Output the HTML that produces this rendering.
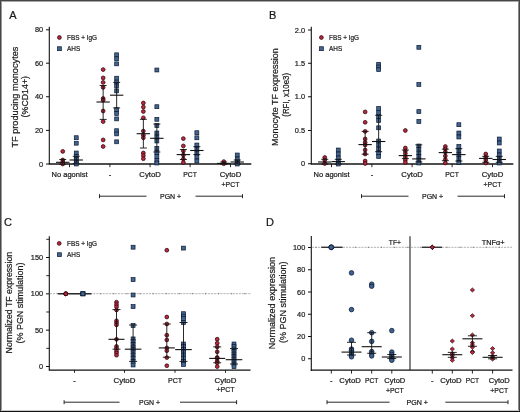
<!DOCTYPE html>
<html><head><meta charset="utf-8"><style>
html,body{margin:0;padding:0;background:#fff;}
svg{display:block;will-change:transform;}
text{font-family:"Liberation Sans", sans-serif;stroke:#1a1a1a;stroke-width:0.22px;}
</style></head><body>
<svg width="520" height="412" viewBox="0 0 520 412">
<rect x="0" y="0" width="520" height="412" fill="#fff"/>
<text x="13.0" y="19.3" font-size="11" text-anchor="middle" fill="#1a1a1a">A</text>
<line x1="49.3" y1="26.8" x2="49.3" y2="164.2" stroke="#111" stroke-width="1.1"/>
<line x1="46.0" y1="164.0" x2="49.3" y2="164.0" stroke="#111" stroke-width="1.0"/>
<text x="43.099999999999994" y="166.5" font-size="8.1" text-anchor="end" textLength="4.1" lengthAdjust="spacingAndGlyphs" fill="#1a1a1a">0</text>
<line x1="46.0" y1="130.4" x2="49.3" y2="130.4" stroke="#111" stroke-width="1.0"/>
<text x="43.099999999999994" y="132.9" font-size="8.1" text-anchor="end" textLength="8.2" lengthAdjust="spacingAndGlyphs" fill="#1a1a1a">20</text>
<line x1="46.0" y1="96.75" x2="49.3" y2="96.75" stroke="#111" stroke-width="1.0"/>
<text x="43.099999999999994" y="99.25" font-size="8.1" text-anchor="end" textLength="8.2" lengthAdjust="spacingAndGlyphs" fill="#1a1a1a">40</text>
<line x1="46.0" y1="63.2" x2="49.3" y2="63.2" stroke="#111" stroke-width="1.0"/>
<text x="43.099999999999994" y="65.7" font-size="8.1" text-anchor="end" textLength="8.2" lengthAdjust="spacingAndGlyphs" fill="#1a1a1a">60</text>
<line x1="46.0" y1="29.8" x2="49.3" y2="29.8" stroke="#111" stroke-width="1.0"/>
<text x="43.099999999999994" y="32.3" font-size="8.1" text-anchor="end" textLength="8.2" lengthAdjust="spacingAndGlyphs" fill="#1a1a1a">80</text>
<line x1="48.8" y1="164.0" x2="251.3" y2="164.0" stroke="#151515" stroke-width="1.4"/>
<line x1="69.5" y1="163.9" x2="69.5" y2="167.2" stroke="#111" stroke-width="0.9"/>
<line x1="109.9" y1="163.9" x2="109.9" y2="167.2" stroke="#111" stroke-width="0.9"/>
<line x1="150.1" y1="163.9" x2="150.1" y2="167.2" stroke="#111" stroke-width="0.9"/>
<line x1="190.10000000000002" y1="163.9" x2="190.10000000000002" y2="167.2" stroke="#111" stroke-width="0.9"/>
<line x1="230.5" y1="163.9" x2="230.5" y2="167.2" stroke="#111" stroke-width="0.9"/>
<text x="69.5" y="177.3" font-size="7.6" text-anchor="middle" textLength="36.0" lengthAdjust="spacingAndGlyphs" fill="#1a1a1a">No agonist</text>
<text x="109.9" y="177.3" font-size="7.6" text-anchor="middle" fill="#1a1a1a">-</text>
<text x="150.1" y="177.3" font-size="7.6" text-anchor="middle" textLength="21.6" lengthAdjust="spacingAndGlyphs" fill="#1a1a1a">CytoD</text>
<text x="190.10000000000002" y="177.3" font-size="7.6" text-anchor="middle" textLength="13.6" lengthAdjust="spacingAndGlyphs" fill="#1a1a1a">PCT</text>
<text x="230.5" y="177.3" font-size="7.6" text-anchor="middle" textLength="21.6" lengthAdjust="spacingAndGlyphs" fill="#1a1a1a">CytoD</text>
<text x="230.5" y="186.5" font-size="7.6" text-anchor="middle" textLength="17.8" lengthAdjust="spacingAndGlyphs" fill="#1a1a1a">+PCT</text>
<line x1="99.5" y1="196.2" x2="146.5" y2="196.2" stroke="#111" stroke-width="0.9"/>
<line x1="99.5" y1="194.2" x2="99.5" y2="198.2" stroke="#111" stroke-width="0.9"/>
<line x1="195.5" y1="196.2" x2="242.5" y2="196.2" stroke="#111" stroke-width="0.9"/>
<line x1="242.5" y1="194.2" x2="242.5" y2="198.2" stroke="#111" stroke-width="0.9"/>
<text x="170.6" y="199.0" font-size="7.6" text-anchor="middle" textLength="21.2" lengthAdjust="spacingAndGlyphs" fill="#1a1a1a">PGN +</text>
<text transform="translate(17.6,97.1) rotate(-90)" x="0" y="0" font-size="9.7" text-anchor="middle" textLength="101.0" lengthAdjust="spacingAndGlyphs" fill="#1a1a1a">TF producing monocytes</text>
<text transform="translate(28.3,96.7) rotate(-90)" x="0" y="0" font-size="9.5" text-anchor="middle" textLength="41.4" lengthAdjust="spacingAndGlyphs" fill="#1a1a1a">(%CD14+)</text>
<circle cx="59.4" cy="37.5" r="1.9" fill="#ba2840" stroke="#2a0508" stroke-width="0.75"/>
<text x="67.0" y="39.8" font-size="7.6" text-anchor="start" textLength="30.0" lengthAdjust="spacingAndGlyphs" fill="#1a1a1a">FBS + IgG</text>
<rect x="57.449999999999996" y="46.75" width="3.9" height="3.9" fill="#42648f" stroke="#0b1a33" stroke-width="0.7"/>
<text x="67.0" y="50.8" font-size="7.6" text-anchor="start" textLength="13.2" lengthAdjust="spacingAndGlyphs" fill="#1a1a1a">AHS</text>
<circle cx="62.75" cy="151.4" r="1.9" fill="#ba2840" stroke="#2a0508" stroke-width="0.75"/>
<circle cx="62.75" cy="160.0" r="1.9" fill="#ba2840" stroke="#2a0508" stroke-width="0.75"/>
<circle cx="62.75" cy="162.3" r="1.9" fill="#ba2840" stroke="#2a0508" stroke-width="0.75"/>
<circle cx="62.75" cy="164.0" r="1.9" fill="#ba2840" stroke="#2a0508" stroke-width="0.75"/>
<rect x="74.3" y="135.75" width="3.9" height="3.9" fill="#42648f" stroke="#0b1a33" stroke-width="0.7"/>
<rect x="74.3" y="141.25" width="3.9" height="3.9" fill="#42648f" stroke="#0b1a33" stroke-width="0.7"/>
<rect x="74.3" y="151.05" width="3.9" height="3.9" fill="#42648f" stroke="#0b1a33" stroke-width="0.7"/>
<rect x="74.3" y="154.55" width="3.9" height="3.9" fill="#42648f" stroke="#0b1a33" stroke-width="0.7"/>
<rect x="74.3" y="157.55" width="3.9" height="3.9" fill="#42648f" stroke="#0b1a33" stroke-width="0.7"/>
<rect x="74.3" y="160.05" width="3.9" height="3.9" fill="#42648f" stroke="#0b1a33" stroke-width="0.7"/>
<rect x="74.3" y="162.05" width="3.9" height="3.9" fill="#42648f" stroke="#0b1a33" stroke-width="0.7"/>
<line x1="62.75" y1="159.5" x2="62.75" y2="164.3" stroke="#111" stroke-width="0.9"/>
<line x1="59.25" y1="159.5" x2="66.25" y2="159.5" stroke="#111" stroke-width="0.9"/>
<line x1="59.25" y1="164.3" x2="66.25" y2="164.3" stroke="#111" stroke-width="0.9"/>
<line x1="56.05" y1="162.3" x2="69.45" y2="162.3" stroke="#111" stroke-width="1.1"/>
<line x1="76.25" y1="156.3" x2="76.25" y2="163.8" stroke="#111" stroke-width="0.9"/>
<line x1="72.75" y1="156.3" x2="79.75" y2="156.3" stroke="#111" stroke-width="0.9"/>
<line x1="72.75" y1="163.8" x2="79.75" y2="163.8" stroke="#111" stroke-width="0.9"/>
<line x1="69.55" y1="160.0" x2="82.95" y2="160.0" stroke="#111" stroke-width="1.1"/>
<circle cx="103.15" cy="69.6" r="1.9" fill="#ba2840" stroke="#2a0508" stroke-width="0.75"/>
<circle cx="103.15" cy="77.9" r="1.9" fill="#ba2840" stroke="#2a0508" stroke-width="0.75"/>
<circle cx="103.15" cy="82.4" r="1.9" fill="#ba2840" stroke="#2a0508" stroke-width="0.75"/>
<circle cx="103.15" cy="87.4" r="1.9" fill="#ba2840" stroke="#2a0508" stroke-width="0.75"/>
<circle cx="103.15" cy="98.5" r="1.9" fill="#ba2840" stroke="#2a0508" stroke-width="0.75"/>
<circle cx="103.15" cy="100.2" r="1.9" fill="#ba2840" stroke="#2a0508" stroke-width="0.75"/>
<circle cx="103.15" cy="111.0" r="1.9" fill="#ba2840" stroke="#2a0508" stroke-width="0.75"/>
<circle cx="103.15" cy="121.6" r="1.9" fill="#ba2840" stroke="#2a0508" stroke-width="0.75"/>
<circle cx="103.15" cy="139.9" r="1.9" fill="#ba2840" stroke="#2a0508" stroke-width="0.75"/>
<circle cx="103.15" cy="146.5" r="1.9" fill="#ba2840" stroke="#2a0508" stroke-width="0.75"/>
<rect x="114.7" y="52.849999999999994" width="3.9" height="3.9" fill="#42648f" stroke="#0b1a33" stroke-width="0.7"/>
<rect x="114.7" y="56.8" width="3.9" height="3.9" fill="#42648f" stroke="#0b1a33" stroke-width="0.7"/>
<rect x="114.7" y="61.9" width="3.9" height="3.9" fill="#42648f" stroke="#0b1a33" stroke-width="0.7"/>
<rect x="114.7" y="76.25" width="3.9" height="3.9" fill="#42648f" stroke="#0b1a33" stroke-width="0.7"/>
<rect x="114.7" y="80.14999999999999" width="3.9" height="3.9" fill="#42648f" stroke="#0b1a33" stroke-width="0.7"/>
<rect x="114.7" y="84.05" width="3.9" height="3.9" fill="#42648f" stroke="#0b1a33" stroke-width="0.7"/>
<rect x="114.7" y="88.95" width="3.9" height="3.9" fill="#42648f" stroke="#0b1a33" stroke-width="0.7"/>
<rect x="114.7" y="107.75" width="3.9" height="3.9" fill="#42648f" stroke="#0b1a33" stroke-width="0.7"/>
<rect x="114.7" y="111.55" width="3.9" height="3.9" fill="#42648f" stroke="#0b1a33" stroke-width="0.7"/>
<rect x="114.7" y="116.95" width="3.9" height="3.9" fill="#42648f" stroke="#0b1a33" stroke-width="0.7"/>
<rect x="114.7" y="128.75" width="3.9" height="3.9" fill="#42648f" stroke="#0b1a33" stroke-width="0.7"/>
<rect x="114.7" y="131.95000000000002" width="3.9" height="3.9" fill="#42648f" stroke="#0b1a33" stroke-width="0.7"/>
<rect x="114.7" y="139.85000000000002" width="3.9" height="3.9" fill="#42648f" stroke="#0b1a33" stroke-width="0.7"/>
<line x1="103.15" y1="85.5" x2="103.15" y2="119.4" stroke="#111" stroke-width="0.9"/>
<line x1="99.65" y1="85.5" x2="106.65" y2="85.5" stroke="#111" stroke-width="0.9"/>
<line x1="99.65" y1="119.4" x2="106.65" y2="119.4" stroke="#111" stroke-width="0.9"/>
<line x1="96.45" y1="102.0" x2="109.85000000000001" y2="102.0" stroke="#111" stroke-width="1.1"/>
<line x1="116.65" y1="82.4" x2="116.65" y2="107.9" stroke="#111" stroke-width="0.9"/>
<line x1="113.15" y1="82.4" x2="120.15" y2="82.4" stroke="#111" stroke-width="0.9"/>
<line x1="113.15" y1="107.9" x2="120.15" y2="107.9" stroke="#111" stroke-width="0.9"/>
<line x1="109.95" y1="95.2" x2="123.35000000000001" y2="95.2" stroke="#111" stroke-width="1.1"/>
<circle cx="143.35" cy="103.0" r="1.9" fill="#ba2840" stroke="#2a0508" stroke-width="0.75"/>
<circle cx="143.35" cy="107.1" r="1.9" fill="#ba2840" stroke="#2a0508" stroke-width="0.75"/>
<circle cx="143.35" cy="111.5" r="1.9" fill="#ba2840" stroke="#2a0508" stroke-width="0.75"/>
<circle cx="143.35" cy="117.8" r="1.9" fill="#ba2840" stroke="#2a0508" stroke-width="0.75"/>
<circle cx="143.35" cy="131.1" r="1.9" fill="#ba2840" stroke="#2a0508" stroke-width="0.75"/>
<circle cx="143.35" cy="135.2" r="1.9" fill="#ba2840" stroke="#2a0508" stroke-width="0.75"/>
<circle cx="143.35" cy="137.8" r="1.9" fill="#ba2840" stroke="#2a0508" stroke-width="0.75"/>
<circle cx="143.35" cy="153.0" r="1.9" fill="#ba2840" stroke="#2a0508" stroke-width="0.75"/>
<circle cx="143.35" cy="155.6" r="1.9" fill="#ba2840" stroke="#2a0508" stroke-width="0.75"/>
<circle cx="143.35" cy="158.7" r="1.9" fill="#ba2840" stroke="#2a0508" stroke-width="0.75"/>
<rect x="154.9" y="68.05" width="3.9" height="3.9" fill="#42648f" stroke="#0b1a33" stroke-width="0.7"/>
<rect x="154.9" y="104.75" width="3.9" height="3.9" fill="#42648f" stroke="#0b1a33" stroke-width="0.7"/>
<rect x="154.9" y="117.35" width="3.9" height="3.9" fill="#42648f" stroke="#0b1a33" stroke-width="0.7"/>
<rect x="154.9" y="123.55" width="3.9" height="3.9" fill="#42648f" stroke="#0b1a33" stroke-width="0.7"/>
<rect x="154.9" y="131.05" width="3.9" height="3.9" fill="#42648f" stroke="#0b1a33" stroke-width="0.7"/>
<rect x="154.9" y="135.05" width="3.9" height="3.9" fill="#42648f" stroke="#0b1a33" stroke-width="0.7"/>
<rect x="154.9" y="139.05" width="3.9" height="3.9" fill="#42648f" stroke="#0b1a33" stroke-width="0.7"/>
<rect x="154.9" y="146.55" width="3.9" height="3.9" fill="#42648f" stroke="#0b1a33" stroke-width="0.7"/>
<rect x="154.9" y="150.55" width="3.9" height="3.9" fill="#42648f" stroke="#0b1a33" stroke-width="0.7"/>
<rect x="154.9" y="154.55" width="3.9" height="3.9" fill="#42648f" stroke="#0b1a33" stroke-width="0.7"/>
<rect x="154.9" y="158.55" width="3.9" height="3.9" fill="#42648f" stroke="#0b1a33" stroke-width="0.7"/>
<rect x="154.9" y="161.05" width="3.9" height="3.9" fill="#42648f" stroke="#0b1a33" stroke-width="0.7"/>
<line x1="143.35" y1="119.3" x2="143.35" y2="148.0" stroke="#111" stroke-width="0.9"/>
<line x1="139.85" y1="119.3" x2="146.85" y2="119.3" stroke="#111" stroke-width="0.9"/>
<line x1="139.85" y1="148.0" x2="146.85" y2="148.0" stroke="#111" stroke-width="0.9"/>
<line x1="136.65" y1="133.7" x2="150.04999999999998" y2="133.7" stroke="#111" stroke-width="1.1"/>
<line x1="156.85" y1="124.1" x2="156.85" y2="152.0" stroke="#111" stroke-width="0.9"/>
<line x1="153.35" y1="124.1" x2="160.35" y2="124.1" stroke="#111" stroke-width="0.9"/>
<line x1="153.35" y1="152.0" x2="160.35" y2="152.0" stroke="#111" stroke-width="0.9"/>
<line x1="150.15" y1="138.3" x2="163.54999999999998" y2="138.3" stroke="#111" stroke-width="1.1"/>
<circle cx="183.35000000000002" cy="138.6" r="1.9" fill="#ba2840" stroke="#2a0508" stroke-width="0.75"/>
<circle cx="183.35000000000002" cy="145.9" r="1.9" fill="#ba2840" stroke="#2a0508" stroke-width="0.75"/>
<circle cx="183.35000000000002" cy="151.0" r="1.9" fill="#ba2840" stroke="#2a0508" stroke-width="0.75"/>
<circle cx="183.35000000000002" cy="155.0" r="1.9" fill="#ba2840" stroke="#2a0508" stroke-width="0.75"/>
<circle cx="183.35000000000002" cy="159.0" r="1.9" fill="#ba2840" stroke="#2a0508" stroke-width="0.75"/>
<circle cx="183.35000000000002" cy="162.5" r="1.9" fill="#ba2840" stroke="#2a0508" stroke-width="0.75"/>
<rect x="194.90000000000003" y="130.75" width="3.9" height="3.9" fill="#42648f" stroke="#0b1a33" stroke-width="0.7"/>
<rect x="194.90000000000003" y="135.85000000000002" width="3.9" height="3.9" fill="#42648f" stroke="#0b1a33" stroke-width="0.7"/>
<rect x="194.90000000000003" y="143.05" width="3.9" height="3.9" fill="#42648f" stroke="#0b1a33" stroke-width="0.7"/>
<rect x="194.90000000000003" y="147.05" width="3.9" height="3.9" fill="#42648f" stroke="#0b1a33" stroke-width="0.7"/>
<rect x="194.90000000000003" y="151.05" width="3.9" height="3.9" fill="#42648f" stroke="#0b1a33" stroke-width="0.7"/>
<rect x="194.90000000000003" y="155.05" width="3.9" height="3.9" fill="#42648f" stroke="#0b1a33" stroke-width="0.7"/>
<rect x="194.90000000000003" y="159.05" width="3.9" height="3.9" fill="#42648f" stroke="#0b1a33" stroke-width="0.7"/>
<line x1="183.35000000000002" y1="149.5" x2="183.35000000000002" y2="159.5" stroke="#111" stroke-width="0.9"/>
<line x1="179.85000000000002" y1="149.5" x2="186.85000000000002" y2="149.5" stroke="#111" stroke-width="0.9"/>
<line x1="179.85000000000002" y1="159.5" x2="186.85000000000002" y2="159.5" stroke="#111" stroke-width="0.9"/>
<line x1="176.65000000000003" y1="154.6" x2="190.05" y2="154.6" stroke="#111" stroke-width="1.1"/>
<line x1="196.85000000000002" y1="146.7" x2="196.85000000000002" y2="154.6" stroke="#111" stroke-width="0.9"/>
<line x1="193.35000000000002" y1="146.7" x2="200.35000000000002" y2="146.7" stroke="#111" stroke-width="0.9"/>
<line x1="193.35000000000002" y1="154.6" x2="200.35000000000002" y2="154.6" stroke="#111" stroke-width="0.9"/>
<line x1="190.15000000000003" y1="150.5" x2="203.55" y2="150.5" stroke="#111" stroke-width="1.1"/>
<circle cx="223.75" cy="161.6" r="1.9" fill="#ba2840" stroke="#2a0508" stroke-width="0.75"/>
<circle cx="223.75" cy="163.7" r="1.9" fill="#ba2840" stroke="#2a0508" stroke-width="0.75"/>
<rect x="235.3" y="153.05" width="3.9" height="3.9" fill="#42648f" stroke="#0b1a33" stroke-width="0.7"/>
<rect x="235.3" y="157.05" width="3.9" height="3.9" fill="#42648f" stroke="#0b1a33" stroke-width="0.7"/>
<rect x="235.3" y="160.05" width="3.9" height="3.9" fill="#42648f" stroke="#0b1a33" stroke-width="0.7"/>
<rect x="235.3" y="162.05" width="3.9" height="3.9" fill="#42648f" stroke="#0b1a33" stroke-width="0.7"/>
<line x1="223.75" y1="162.0" x2="223.75" y2="164.2" stroke="#111" stroke-width="0.9"/>
<line x1="220.25" y1="162.0" x2="227.25" y2="162.0" stroke="#111" stroke-width="0.9"/>
<line x1="220.25" y1="164.2" x2="227.25" y2="164.2" stroke="#111" stroke-width="0.9"/>
<line x1="217.05" y1="163.4" x2="230.45" y2="163.4" stroke="#111" stroke-width="1.1"/>
<line x1="237.25" y1="160.0" x2="237.25" y2="164.0" stroke="#111" stroke-width="0.9"/>
<line x1="233.75" y1="160.0" x2="240.75" y2="160.0" stroke="#111" stroke-width="0.9"/>
<line x1="233.75" y1="164.0" x2="240.75" y2="164.0" stroke="#111" stroke-width="0.9"/>
<line x1="230.55" y1="162.0" x2="243.95" y2="162.0" stroke="#111" stroke-width="1.1"/>
<text x="272.7" y="19.3" font-size="11" text-anchor="middle" fill="#1a1a1a">B</text>
<line x1="311.3" y1="26.8" x2="311.3" y2="164.2" stroke="#111" stroke-width="1.1"/>
<line x1="308.0" y1="163.75" x2="311.3" y2="163.75" stroke="#111" stroke-width="1.0"/>
<text x="305.1" y="166.25" font-size="8.1" text-anchor="end" textLength="4.1" lengthAdjust="spacingAndGlyphs" fill="#1a1a1a">0</text>
<line x1="308.0" y1="130.5" x2="311.3" y2="130.5" stroke="#111" stroke-width="1.0"/>
<text x="305.1" y="133.0" font-size="8.1" text-anchor="end" textLength="10.25" lengthAdjust="spacingAndGlyphs" fill="#1a1a1a">0.5</text>
<line x1="308.0" y1="96.75" x2="311.3" y2="96.75" stroke="#111" stroke-width="1.0"/>
<text x="305.1" y="99.25" font-size="8.1" text-anchor="end" textLength="10.25" lengthAdjust="spacingAndGlyphs" fill="#1a1a1a">1.0</text>
<line x1="308.0" y1="63.25" x2="311.3" y2="63.25" stroke="#111" stroke-width="1.0"/>
<text x="305.1" y="65.75" font-size="8.1" text-anchor="end" textLength="10.25" lengthAdjust="spacingAndGlyphs" fill="#1a1a1a">1.5</text>
<line x1="308.0" y1="30.0" x2="311.3" y2="30.0" stroke="#111" stroke-width="1.0"/>
<text x="305.1" y="32.5" font-size="8.1" text-anchor="end" textLength="10.25" lengthAdjust="spacingAndGlyphs" fill="#1a1a1a">2.0</text>
<line x1="310.8" y1="164.0" x2="513.3" y2="164.0" stroke="#151515" stroke-width="1.4"/>
<line x1="331.5" y1="163.9" x2="331.5" y2="167.2" stroke="#111" stroke-width="0.9"/>
<line x1="371.90000000000003" y1="163.9" x2="371.90000000000003" y2="167.2" stroke="#111" stroke-width="0.9"/>
<line x1="412.1" y1="163.9" x2="412.1" y2="167.2" stroke="#111" stroke-width="0.9"/>
<line x1="452.1" y1="163.9" x2="452.1" y2="167.2" stroke="#111" stroke-width="0.9"/>
<line x1="492.5" y1="163.9" x2="492.5" y2="167.2" stroke="#111" stroke-width="0.9"/>
<text x="331.5" y="177.3" font-size="7.6" text-anchor="middle" textLength="36.0" lengthAdjust="spacingAndGlyphs" fill="#1a1a1a">No agonist</text>
<text x="371.90000000000003" y="177.3" font-size="7.6" text-anchor="middle" fill="#1a1a1a">-</text>
<text x="412.1" y="177.3" font-size="7.6" text-anchor="middle" textLength="21.6" lengthAdjust="spacingAndGlyphs" fill="#1a1a1a">CytoD</text>
<text x="452.1" y="177.3" font-size="7.6" text-anchor="middle" textLength="13.6" lengthAdjust="spacingAndGlyphs" fill="#1a1a1a">PCT</text>
<text x="492.5" y="177.3" font-size="7.6" text-anchor="middle" textLength="21.6" lengthAdjust="spacingAndGlyphs" fill="#1a1a1a">CytoD</text>
<text x="492.5" y="186.5" font-size="7.6" text-anchor="middle" textLength="17.8" lengthAdjust="spacingAndGlyphs" fill="#1a1a1a">+PCT</text>
<line x1="361.5" y1="196.2" x2="408.5" y2="196.2" stroke="#111" stroke-width="0.9"/>
<line x1="361.5" y1="194.2" x2="361.5" y2="198.2" stroke="#111" stroke-width="0.9"/>
<line x1="457.5" y1="196.2" x2="504.5" y2="196.2" stroke="#111" stroke-width="0.9"/>
<line x1="504.5" y1="194.2" x2="504.5" y2="198.2" stroke="#111" stroke-width="0.9"/>
<text x="432.6" y="199.0" font-size="7.6" text-anchor="middle" textLength="21.2" lengthAdjust="spacingAndGlyphs" fill="#1a1a1a">PGN +</text>
<text transform="translate(277.8,97.1) rotate(-90)" x="0" y="0" font-size="9.7" text-anchor="middle" textLength="97.8" lengthAdjust="spacingAndGlyphs" fill="#1a1a1a">Monocyte TF expression</text>
<text transform="translate(288.5,94.85) rotate(-90)" x="0" y="0" font-size="9.5" text-anchor="middle" textLength="43.7" lengthAdjust="spacingAndGlyphs" fill="#1a1a1a">(RFI, x10e3)</text>
<circle cx="321.4" cy="37.5" r="1.9" fill="#ba2840" stroke="#2a0508" stroke-width="0.75"/>
<text x="329.0" y="39.8" font-size="7.6" text-anchor="start" textLength="30.0" lengthAdjust="spacingAndGlyphs" fill="#1a1a1a">FBS + IgG</text>
<rect x="319.45" y="46.75" width="3.9" height="3.9" fill="#42648f" stroke="#0b1a33" stroke-width="0.7"/>
<text x="329.0" y="50.8" font-size="7.6" text-anchor="start" textLength="13.2" lengthAdjust="spacingAndGlyphs" fill="#1a1a1a">AHS</text>
<circle cx="324.75" cy="157.5" r="1.9" fill="#ba2840" stroke="#2a0508" stroke-width="0.75"/>
<circle cx="324.75" cy="160.0" r="1.9" fill="#ba2840" stroke="#2a0508" stroke-width="0.75"/>
<circle cx="324.75" cy="163.5" r="1.9" fill="#ba2840" stroke="#2a0508" stroke-width="0.75"/>
<rect x="336.3" y="148.05" width="3.9" height="3.9" fill="#42648f" stroke="#0b1a33" stroke-width="0.7"/>
<rect x="336.3" y="152.05" width="3.9" height="3.9" fill="#42648f" stroke="#0b1a33" stroke-width="0.7"/>
<rect x="336.3" y="156.05" width="3.9" height="3.9" fill="#42648f" stroke="#0b1a33" stroke-width="0.7"/>
<rect x="336.3" y="159.55" width="3.9" height="3.9" fill="#42648f" stroke="#0b1a33" stroke-width="0.7"/>
<rect x="336.3" y="162.05" width="3.9" height="3.9" fill="#42648f" stroke="#0b1a33" stroke-width="0.7"/>
<line x1="324.75" y1="159.3" x2="324.75" y2="164.0" stroke="#111" stroke-width="0.9"/>
<line x1="321.25" y1="159.3" x2="328.25" y2="159.3" stroke="#111" stroke-width="0.9"/>
<line x1="321.25" y1="164.0" x2="328.25" y2="164.0" stroke="#111" stroke-width="0.9"/>
<line x1="318.05" y1="162.0" x2="331.45" y2="162.0" stroke="#111" stroke-width="1.1"/>
<line x1="338.25" y1="159.3" x2="338.25" y2="164.0" stroke="#111" stroke-width="0.9"/>
<line x1="334.75" y1="159.3" x2="341.75" y2="159.3" stroke="#111" stroke-width="0.9"/>
<line x1="334.75" y1="164.0" x2="341.75" y2="164.0" stroke="#111" stroke-width="0.9"/>
<line x1="331.55" y1="161.6" x2="344.95" y2="161.6" stroke="#111" stroke-width="1.1"/>
<circle cx="365.15000000000003" cy="111.9" r="1.9" fill="#ba2840" stroke="#2a0508" stroke-width="0.75"/>
<circle cx="365.15000000000003" cy="122.3" r="1.9" fill="#ba2840" stroke="#2a0508" stroke-width="0.75"/>
<circle cx="365.15000000000003" cy="131.4" r="1.9" fill="#ba2840" stroke="#2a0508" stroke-width="0.75"/>
<circle cx="365.15000000000003" cy="139.0" r="1.9" fill="#ba2840" stroke="#2a0508" stroke-width="0.75"/>
<circle cx="365.15000000000003" cy="142.5" r="1.9" fill="#ba2840" stroke="#2a0508" stroke-width="0.75"/>
<circle cx="365.15000000000003" cy="145.0" r="1.9" fill="#ba2840" stroke="#2a0508" stroke-width="0.75"/>
<circle cx="365.15000000000003" cy="150.0" r="1.9" fill="#ba2840" stroke="#2a0508" stroke-width="0.75"/>
<circle cx="365.15000000000003" cy="154.0" r="1.9" fill="#ba2840" stroke="#2a0508" stroke-width="0.75"/>
<circle cx="365.15000000000003" cy="161.0" r="1.9" fill="#ba2840" stroke="#2a0508" stroke-width="0.75"/>
<circle cx="365.15000000000003" cy="163.5" r="1.9" fill="#ba2840" stroke="#2a0508" stroke-width="0.75"/>
<rect x="376.70000000000005" y="62.349999999999994" width="3.9" height="3.9" fill="#42648f" stroke="#0b1a33" stroke-width="0.7"/>
<rect x="376.70000000000005" y="65.05" width="3.9" height="3.9" fill="#42648f" stroke="#0b1a33" stroke-width="0.7"/>
<rect x="376.70000000000005" y="67.64999999999999" width="3.9" height="3.9" fill="#42648f" stroke="#0b1a33" stroke-width="0.7"/>
<rect x="376.70000000000005" y="106.55" width="3.9" height="3.9" fill="#42648f" stroke="#0b1a33" stroke-width="0.7"/>
<rect x="376.70000000000005" y="110.55" width="3.9" height="3.9" fill="#42648f" stroke="#0b1a33" stroke-width="0.7"/>
<rect x="376.70000000000005" y="114.55" width="3.9" height="3.9" fill="#42648f" stroke="#0b1a33" stroke-width="0.7"/>
<rect x="376.70000000000005" y="118.55" width="3.9" height="3.9" fill="#42648f" stroke="#0b1a33" stroke-width="0.7"/>
<rect x="376.70000000000005" y="125.85" width="3.9" height="3.9" fill="#42648f" stroke="#0b1a33" stroke-width="0.7"/>
<rect x="376.70000000000005" y="139.05" width="3.9" height="3.9" fill="#42648f" stroke="#0b1a33" stroke-width="0.7"/>
<rect x="376.70000000000005" y="143.05" width="3.9" height="3.9" fill="#42648f" stroke="#0b1a33" stroke-width="0.7"/>
<rect x="376.70000000000005" y="147.05" width="3.9" height="3.9" fill="#42648f" stroke="#0b1a33" stroke-width="0.7"/>
<rect x="376.70000000000005" y="151.05" width="3.9" height="3.9" fill="#42648f" stroke="#0b1a33" stroke-width="0.7"/>
<rect x="376.70000000000005" y="154.55" width="3.9" height="3.9" fill="#42648f" stroke="#0b1a33" stroke-width="0.7"/>
<line x1="365.15000000000003" y1="131.4" x2="365.15000000000003" y2="154.2" stroke="#111" stroke-width="0.9"/>
<line x1="361.65000000000003" y1="131.4" x2="368.65000000000003" y2="131.4" stroke="#111" stroke-width="0.9"/>
<line x1="361.65000000000003" y1="154.2" x2="368.65000000000003" y2="154.2" stroke="#111" stroke-width="0.9"/>
<line x1="358.45000000000005" y1="144.6" x2="371.85" y2="144.6" stroke="#111" stroke-width="1.1"/>
<line x1="378.65000000000003" y1="115.3" x2="378.65000000000003" y2="151.7" stroke="#111" stroke-width="0.9"/>
<line x1="375.15000000000003" y1="115.3" x2="382.15000000000003" y2="115.3" stroke="#111" stroke-width="0.9"/>
<line x1="375.15000000000003" y1="151.7" x2="382.15000000000003" y2="151.7" stroke="#111" stroke-width="0.9"/>
<line x1="371.95000000000005" y1="141.5" x2="385.35" y2="141.5" stroke="#111" stroke-width="1.1"/>
<circle cx="405.35" cy="130.5" r="1.9" fill="#ba2840" stroke="#2a0508" stroke-width="0.75"/>
<circle cx="405.35" cy="148.0" r="1.9" fill="#ba2840" stroke="#2a0508" stroke-width="0.75"/>
<circle cx="405.35" cy="151.0" r="1.9" fill="#ba2840" stroke="#2a0508" stroke-width="0.75"/>
<circle cx="405.35" cy="153.5" r="1.9" fill="#ba2840" stroke="#2a0508" stroke-width="0.75"/>
<circle cx="405.35" cy="157.0" r="1.9" fill="#ba2840" stroke="#2a0508" stroke-width="0.75"/>
<circle cx="405.35" cy="160.0" r="1.9" fill="#ba2840" stroke="#2a0508" stroke-width="0.75"/>
<circle cx="405.35" cy="162.5" r="1.9" fill="#ba2840" stroke="#2a0508" stroke-width="0.75"/>
<rect x="416.90000000000003" y="45.349999999999994" width="3.9" height="3.9" fill="#42648f" stroke="#0b1a33" stroke-width="0.7"/>
<rect x="416.90000000000003" y="82.55" width="3.9" height="3.9" fill="#42648f" stroke="#0b1a33" stroke-width="0.7"/>
<rect x="416.90000000000003" y="109.64999999999999" width="3.9" height="3.9" fill="#42648f" stroke="#0b1a33" stroke-width="0.7"/>
<rect x="416.90000000000003" y="119.55" width="3.9" height="3.9" fill="#42648f" stroke="#0b1a33" stroke-width="0.7"/>
<rect x="416.90000000000003" y="144.05" width="3.9" height="3.9" fill="#42648f" stroke="#0b1a33" stroke-width="0.7"/>
<rect x="416.90000000000003" y="147.55" width="3.9" height="3.9" fill="#42648f" stroke="#0b1a33" stroke-width="0.7"/>
<rect x="416.90000000000003" y="151.05" width="3.9" height="3.9" fill="#42648f" stroke="#0b1a33" stroke-width="0.7"/>
<rect x="416.90000000000003" y="154.55" width="3.9" height="3.9" fill="#42648f" stroke="#0b1a33" stroke-width="0.7"/>
<rect x="416.90000000000003" y="158.05" width="3.9" height="3.9" fill="#42648f" stroke="#0b1a33" stroke-width="0.7"/>
<rect x="416.90000000000003" y="161.05" width="3.9" height="3.9" fill="#42648f" stroke="#0b1a33" stroke-width="0.7"/>
<line x1="405.35" y1="150.0" x2="405.35" y2="158.6" stroke="#111" stroke-width="0.9"/>
<line x1="401.85" y1="150.0" x2="408.85" y2="150.0" stroke="#111" stroke-width="0.9"/>
<line x1="401.85" y1="158.6" x2="408.85" y2="158.6" stroke="#111" stroke-width="0.9"/>
<line x1="398.65000000000003" y1="155.6" x2="412.05" y2="155.6" stroke="#111" stroke-width="1.1"/>
<line x1="418.85" y1="144.9" x2="418.85" y2="162.0" stroke="#111" stroke-width="0.9"/>
<line x1="415.35" y1="144.9" x2="422.35" y2="144.9" stroke="#111" stroke-width="0.9"/>
<line x1="415.35" y1="162.0" x2="422.35" y2="162.0" stroke="#111" stroke-width="0.9"/>
<line x1="412.15000000000003" y1="158.9" x2="425.55" y2="158.9" stroke="#111" stroke-width="1.1"/>
<circle cx="445.35" cy="146.5" r="1.9" fill="#ba2840" stroke="#2a0508" stroke-width="0.75"/>
<circle cx="445.35" cy="149.0" r="1.9" fill="#ba2840" stroke="#2a0508" stroke-width="0.75"/>
<circle cx="445.35" cy="152.0" r="1.9" fill="#ba2840" stroke="#2a0508" stroke-width="0.75"/>
<circle cx="445.35" cy="156.0" r="1.9" fill="#ba2840" stroke="#2a0508" stroke-width="0.75"/>
<circle cx="445.35" cy="159.5" r="1.9" fill="#ba2840" stroke="#2a0508" stroke-width="0.75"/>
<circle cx="445.35" cy="163.0" r="1.9" fill="#ba2840" stroke="#2a0508" stroke-width="0.75"/>
<rect x="456.90000000000003" y="122.75" width="3.9" height="3.9" fill="#42648f" stroke="#0b1a33" stroke-width="0.7"/>
<rect x="456.90000000000003" y="131.05" width="3.9" height="3.9" fill="#42648f" stroke="#0b1a33" stroke-width="0.7"/>
<rect x="456.90000000000003" y="135.05" width="3.9" height="3.9" fill="#42648f" stroke="#0b1a33" stroke-width="0.7"/>
<rect x="456.90000000000003" y="144.55" width="3.9" height="3.9" fill="#42648f" stroke="#0b1a33" stroke-width="0.7"/>
<rect x="456.90000000000003" y="148.55" width="3.9" height="3.9" fill="#42648f" stroke="#0b1a33" stroke-width="0.7"/>
<rect x="456.90000000000003" y="152.55" width="3.9" height="3.9" fill="#42648f" stroke="#0b1a33" stroke-width="0.7"/>
<rect x="456.90000000000003" y="156.55" width="3.9" height="3.9" fill="#42648f" stroke="#0b1a33" stroke-width="0.7"/>
<rect x="456.90000000000003" y="160.55" width="3.9" height="3.9" fill="#42648f" stroke="#0b1a33" stroke-width="0.7"/>
<line x1="445.35" y1="149.1" x2="445.35" y2="160.7" stroke="#111" stroke-width="0.9"/>
<line x1="441.85" y1="149.1" x2="448.85" y2="149.1" stroke="#111" stroke-width="0.9"/>
<line x1="441.85" y1="160.7" x2="448.85" y2="160.7" stroke="#111" stroke-width="0.9"/>
<line x1="438.65000000000003" y1="152.6" x2="452.05" y2="152.6" stroke="#111" stroke-width="1.1"/>
<line x1="458.85" y1="148.7" x2="458.85" y2="161.1" stroke="#111" stroke-width="0.9"/>
<line x1="455.35" y1="148.7" x2="462.35" y2="148.7" stroke="#111" stroke-width="0.9"/>
<line x1="455.35" y1="161.1" x2="462.35" y2="161.1" stroke="#111" stroke-width="0.9"/>
<line x1="452.15000000000003" y1="154.6" x2="465.55" y2="154.6" stroke="#111" stroke-width="1.1"/>
<circle cx="485.75" cy="154.0" r="1.9" fill="#ba2840" stroke="#2a0508" stroke-width="0.75"/>
<circle cx="485.75" cy="157.0" r="1.9" fill="#ba2840" stroke="#2a0508" stroke-width="0.75"/>
<circle cx="485.75" cy="160.0" r="1.9" fill="#ba2840" stroke="#2a0508" stroke-width="0.75"/>
<circle cx="485.75" cy="163.0" r="1.9" fill="#ba2840" stroke="#2a0508" stroke-width="0.75"/>
<rect x="497.3" y="137.05" width="3.9" height="3.9" fill="#42648f" stroke="#0b1a33" stroke-width="0.7"/>
<rect x="497.3" y="141.05" width="3.9" height="3.9" fill="#42648f" stroke="#0b1a33" stroke-width="0.7"/>
<rect x="497.3" y="149.05" width="3.9" height="3.9" fill="#42648f" stroke="#0b1a33" stroke-width="0.7"/>
<rect x="497.3" y="153.05" width="3.9" height="3.9" fill="#42648f" stroke="#0b1a33" stroke-width="0.7"/>
<rect x="497.3" y="157.05" width="3.9" height="3.9" fill="#42648f" stroke="#0b1a33" stroke-width="0.7"/>
<rect x="497.3" y="161.05" width="3.9" height="3.9" fill="#42648f" stroke="#0b1a33" stroke-width="0.7"/>
<line x1="485.75" y1="156.3" x2="485.75" y2="162.3" stroke="#111" stroke-width="0.9"/>
<line x1="482.25" y1="156.3" x2="489.25" y2="156.3" stroke="#111" stroke-width="0.9"/>
<line x1="482.25" y1="162.3" x2="489.25" y2="162.3" stroke="#111" stroke-width="0.9"/>
<line x1="479.05" y1="158.4" x2="492.45" y2="158.4" stroke="#111" stroke-width="1.1"/>
<line x1="499.25" y1="156.3" x2="499.25" y2="162.3" stroke="#111" stroke-width="0.9"/>
<line x1="495.75" y1="156.3" x2="502.75" y2="156.3" stroke="#111" stroke-width="0.9"/>
<line x1="495.75" y1="162.3" x2="502.75" y2="162.3" stroke="#111" stroke-width="0.9"/>
<line x1="492.55" y1="159.5" x2="505.95" y2="159.5" stroke="#111" stroke-width="1.1"/>
<text x="8.0" y="225.5" font-size="11" text-anchor="middle" fill="#1a1a1a">C</text>
<line x1="49.3" y1="236.2" x2="49.3" y2="370.2" stroke="#111" stroke-width="1.1"/>
<line x1="46.0" y1="366.5" x2="49.3" y2="366.5" stroke="#111" stroke-width="1.0"/>
<text x="43.099999999999994" y="369.0" font-size="8.1" text-anchor="end" textLength="4.1" lengthAdjust="spacingAndGlyphs" fill="#1a1a1a">0</text>
<line x1="46.0" y1="330.165" x2="49.3" y2="330.165" stroke="#111" stroke-width="1.0"/>
<text x="43.099999999999994" y="332.665" font-size="8.1" text-anchor="end" textLength="8.2" lengthAdjust="spacingAndGlyphs" fill="#1a1a1a">50</text>
<line x1="46.0" y1="293.83" x2="49.3" y2="293.83" stroke="#111" stroke-width="1.0"/>
<text x="43.099999999999994" y="296.33" font-size="8.1" text-anchor="end" textLength="12.3" lengthAdjust="spacingAndGlyphs" fill="#1a1a1a">100</text>
<line x1="46.0" y1="257.495" x2="49.3" y2="257.495" stroke="#111" stroke-width="1.0"/>
<text x="43.099999999999994" y="259.995" font-size="8.1" text-anchor="end" textLength="12.3" lengthAdjust="spacingAndGlyphs" fill="#1a1a1a">150</text>
<line x1="46.3" y1="348.3325" x2="49.3" y2="348.3325" stroke="#111" stroke-width="0.9"/>
<line x1="46.3" y1="311.9975" x2="49.3" y2="311.9975" stroke="#111" stroke-width="0.9"/>
<line x1="46.3" y1="275.6625" x2="49.3" y2="275.6625" stroke="#111" stroke-width="0.9"/>
<line x1="46.3" y1="239.3275" x2="49.3" y2="239.3275" stroke="#111" stroke-width="0.9"/>
<line x1="49.8" y1="293.7" x2="250.5" y2="293.7" stroke="#b4b4b4" stroke-width="1.0" stroke-dasharray="2.2 0.9"/>
<line x1="49.8" y1="293.7" x2="250.5" y2="293.7" stroke="#6a6a6a" stroke-width="1.0" stroke-dasharray="1 12.1" stroke-dashoffset="-11.10"/>
<line x1="48.8" y1="370.1" x2="250.5" y2="370.1" stroke="#111" stroke-width="1.3"/>
<line x1="74.5" y1="370.1" x2="74.5" y2="372.8" stroke="#111" stroke-width="0.9"/>
<line x1="124.5" y1="370.1" x2="124.5" y2="372.8" stroke="#111" stroke-width="0.9"/>
<line x1="175.0" y1="370.1" x2="175.0" y2="372.8" stroke="#111" stroke-width="0.9"/>
<line x1="225.5" y1="370.1" x2="225.5" y2="372.8" stroke="#111" stroke-width="0.9"/>
<text x="74.5" y="382.8" font-size="7.6" text-anchor="middle" fill="#1a1a1a">-</text>
<text x="124.5" y="382.8" font-size="7.6" text-anchor="middle" textLength="22.0" lengthAdjust="spacingAndGlyphs" fill="#1a1a1a">CytoD</text>
<text x="175.0" y="382.8" font-size="7.6" text-anchor="middle" textLength="14.2" lengthAdjust="spacingAndGlyphs" fill="#1a1a1a">PCT</text>
<text x="225.5" y="382.8" font-size="7.6" text-anchor="middle" textLength="22.0" lengthAdjust="spacingAndGlyphs" fill="#1a1a1a">CytoD</text>
<text x="225.5" y="392.3" font-size="7.6" text-anchor="middle" textLength="18.0" lengthAdjust="spacingAndGlyphs" fill="#1a1a1a">+PCT</text>
<line x1="64.1" y1="402.2" x2="119.5" y2="402.2" stroke="#111" stroke-width="0.9"/>
<line x1="64.1" y1="400.2" x2="64.1" y2="404.2" stroke="#111" stroke-width="0.9"/>
<line x1="180.0" y1="402.2" x2="236.6" y2="402.2" stroke="#111" stroke-width="0.9"/>
<line x1="236.6" y1="400.2" x2="236.6" y2="404.2" stroke="#111" stroke-width="0.9"/>
<text x="149.6" y="404.8" font-size="7.6" text-anchor="middle" textLength="21.0" lengthAdjust="spacingAndGlyphs" fill="#1a1a1a">PGN +</text>
<text transform="translate(11.9,302.65) rotate(-90)" x="0" y="0" font-size="9.5" text-anchor="middle" textLength="101.5" lengthAdjust="spacingAndGlyphs" fill="#1a1a1a">Normalized TF expression</text>
<text transform="translate(23.0,303.0) rotate(-90)" x="0" y="0" font-size="9.5" text-anchor="middle" textLength="81.0" lengthAdjust="spacingAndGlyphs" fill="#1a1a1a">(% PGN stimulation)</text>
<circle cx="59.2" cy="243.4" r="1.9" fill="#ba2840" stroke="#2a0508" stroke-width="0.75"/>
<text x="67.0" y="245.7" font-size="7.6" text-anchor="start" textLength="30.0" lengthAdjust="spacingAndGlyphs" fill="#1a1a1a">FBS + IgG</text>
<rect x="57.449999999999996" y="252.75" width="3.9" height="3.9" fill="#42648f" stroke="#0b1a33" stroke-width="0.7"/>
<text x="67.0" y="256.8" font-size="7.6" text-anchor="start" textLength="13.2" lengthAdjust="spacingAndGlyphs" fill="#1a1a1a">AHS</text>
<line x1="57.7" y1="293.8" x2="91.5" y2="293.8" stroke="#2a2a2a" stroke-width="1.5"/>
<circle cx="65.8" cy="293.8" r="1.9" fill="#ba2840" stroke="#2a0508" stroke-width="0.75"/>
<rect x="80.95" y="291.85" width="3.9" height="3.9" fill="#42648f" stroke="#0b1a33" stroke-width="0.7"/>
<circle cx="65.8" cy="293.8" r="1.9" fill="#ba2840" stroke="#2a0508" stroke-width="0.75"/>
<rect x="80.95" y="291.85" width="3.9" height="3.9" fill="#42648f" stroke="#0b1a33" stroke-width="0.7"/>
<circle cx="65.8" cy="293.8" r="1.9" fill="#ba2840" stroke="#2a0508" stroke-width="0.75"/>
<rect x="80.95" y="291.85" width="3.9" height="3.9" fill="#42648f" stroke="#0b1a33" stroke-width="0.7"/>
<circle cx="65.8" cy="293.8" r="1.9" fill="#ba2840" stroke="#2a0508" stroke-width="0.75"/>
<rect x="80.95" y="291.85" width="3.9" height="3.9" fill="#42648f" stroke="#0b1a33" stroke-width="0.7"/>
<circle cx="116.5" cy="302.2" r="1.9" fill="#ba2840" stroke="#2a0508" stroke-width="0.75"/>
<circle cx="116.5" cy="304.6" r="1.9" fill="#ba2840" stroke="#2a0508" stroke-width="0.75"/>
<circle cx="116.5" cy="306.8" r="1.9" fill="#ba2840" stroke="#2a0508" stroke-width="0.75"/>
<circle cx="116.5" cy="310" r="1.9" fill="#ba2840" stroke="#2a0508" stroke-width="0.75"/>
<circle cx="116.5" cy="320.8" r="1.9" fill="#ba2840" stroke="#2a0508" stroke-width="0.75"/>
<circle cx="116.5" cy="322.9" r="1.9" fill="#ba2840" stroke="#2a0508" stroke-width="0.75"/>
<circle cx="116.5" cy="324.9" r="1.9" fill="#ba2840" stroke="#2a0508" stroke-width="0.75"/>
<circle cx="116.5" cy="339.3" r="1.9" fill="#ba2840" stroke="#2a0508" stroke-width="0.75"/>
<circle cx="116.5" cy="346.4" r="1.9" fill="#ba2840" stroke="#2a0508" stroke-width="0.75"/>
<circle cx="116.5" cy="348.5" r="1.9" fill="#ba2840" stroke="#2a0508" stroke-width="0.75"/>
<circle cx="116.5" cy="351" r="1.9" fill="#ba2840" stroke="#2a0508" stroke-width="0.75"/>
<circle cx="116.5" cy="353" r="1.9" fill="#ba2840" stroke="#2a0508" stroke-width="0.75"/>
<circle cx="116.5" cy="355.2" r="1.9" fill="#ba2840" stroke="#2a0508" stroke-width="0.75"/>
<rect x="131.15" y="245.25" width="3.9" height="3.9" fill="#42648f" stroke="#0b1a33" stroke-width="0.7"/>
<rect x="131.15" y="277.65000000000003" width="3.9" height="3.9" fill="#42648f" stroke="#0b1a33" stroke-width="0.7"/>
<rect x="131.15" y="293.05" width="3.9" height="3.9" fill="#42648f" stroke="#0b1a33" stroke-width="0.7"/>
<rect x="131.15" y="304.65000000000003" width="3.9" height="3.9" fill="#42648f" stroke="#0b1a33" stroke-width="0.7"/>
<rect x="131.15" y="323.55" width="3.9" height="3.9" fill="#42648f" stroke="#0b1a33" stroke-width="0.7"/>
<rect x="131.15" y="336.95" width="3.9" height="3.9" fill="#42648f" stroke="#0b1a33" stroke-width="0.7"/>
<rect x="131.15" y="339.55" width="3.9" height="3.9" fill="#42648f" stroke="#0b1a33" stroke-width="0.7"/>
<rect x="131.15" y="342.55" width="3.9" height="3.9" fill="#42648f" stroke="#0b1a33" stroke-width="0.7"/>
<rect x="131.15" y="345.05" width="3.9" height="3.9" fill="#42648f" stroke="#0b1a33" stroke-width="0.7"/>
<rect x="131.15" y="347.25" width="3.9" height="3.9" fill="#42648f" stroke="#0b1a33" stroke-width="0.7"/>
<rect x="131.15" y="350.05" width="3.9" height="3.9" fill="#42648f" stroke="#0b1a33" stroke-width="0.7"/>
<rect x="131.15" y="353.05" width="3.9" height="3.9" fill="#42648f" stroke="#0b1a33" stroke-width="0.7"/>
<rect x="131.15" y="356.05" width="3.9" height="3.9" fill="#42648f" stroke="#0b1a33" stroke-width="0.7"/>
<rect x="131.15" y="359.45" width="3.9" height="3.9" fill="#42648f" stroke="#0b1a33" stroke-width="0.7"/>
<rect x="131.15" y="363.05" width="3.9" height="3.9" fill="#42648f" stroke="#0b1a33" stroke-width="0.7"/>
<line x1="116.5" y1="309.6" x2="116.5" y2="349.2" stroke="#111" stroke-width="0.9"/>
<line x1="112.5" y1="309.6" x2="120.5" y2="309.6" stroke="#111" stroke-width="0.9"/>
<line x1="112.5" y1="349.2" x2="120.5" y2="349.2" stroke="#111" stroke-width="0.9"/>
<line x1="108.5" y1="339.3" x2="124.5" y2="339.3" stroke="#111" stroke-width="1.1"/>
<line x1="133.1" y1="325.0" x2="133.1" y2="361.4" stroke="#111" stroke-width="0.9"/>
<line x1="129.1" y1="325.0" x2="137.1" y2="325.0" stroke="#111" stroke-width="0.9"/>
<line x1="129.1" y1="361.4" x2="137.1" y2="361.4" stroke="#111" stroke-width="0.9"/>
<line x1="124.8" y1="349.2" x2="141.4" y2="349.2" stroke="#111" stroke-width="1.1"/>
<circle cx="166.8" cy="250.2" r="1.9" fill="#ba2840" stroke="#2a0508" stroke-width="0.75"/>
<circle cx="166.8" cy="317" r="1.9" fill="#ba2840" stroke="#2a0508" stroke-width="0.75"/>
<circle cx="166.8" cy="324" r="1.9" fill="#ba2840" stroke="#2a0508" stroke-width="0.75"/>
<circle cx="166.8" cy="335.2" r="1.9" fill="#ba2840" stroke="#2a0508" stroke-width="0.75"/>
<circle cx="166.8" cy="339.9" r="1.9" fill="#ba2840" stroke="#2a0508" stroke-width="0.75"/>
<circle cx="166.8" cy="347.9" r="1.9" fill="#ba2840" stroke="#2a0508" stroke-width="0.75"/>
<circle cx="166.8" cy="350.7" r="1.9" fill="#ba2840" stroke="#2a0508" stroke-width="0.75"/>
<circle cx="166.8" cy="357.6" r="1.9" fill="#ba2840" stroke="#2a0508" stroke-width="0.75"/>
<circle cx="166.8" cy="365.7" r="1.9" fill="#ba2840" stroke="#2a0508" stroke-width="0.75"/>
<rect x="181.55" y="246.15" width="3.9" height="3.9" fill="#42648f" stroke="#0b1a33" stroke-width="0.7"/>
<rect x="181.55" y="311.75" width="3.9" height="3.9" fill="#42648f" stroke="#0b1a33" stroke-width="0.7"/>
<rect x="181.55" y="314.25" width="3.9" height="3.9" fill="#42648f" stroke="#0b1a33" stroke-width="0.7"/>
<rect x="181.55" y="316.65000000000003" width="3.9" height="3.9" fill="#42648f" stroke="#0b1a33" stroke-width="0.7"/>
<rect x="181.55" y="320.55" width="3.9" height="3.9" fill="#42648f" stroke="#0b1a33" stroke-width="0.7"/>
<rect x="181.55" y="342.05" width="3.9" height="3.9" fill="#42648f" stroke="#0b1a33" stroke-width="0.7"/>
<rect x="181.55" y="344.55" width="3.9" height="3.9" fill="#42648f" stroke="#0b1a33" stroke-width="0.7"/>
<rect x="181.55" y="347.65000000000003" width="3.9" height="3.9" fill="#42648f" stroke="#0b1a33" stroke-width="0.7"/>
<rect x="181.55" y="350.05" width="3.9" height="3.9" fill="#42648f" stroke="#0b1a33" stroke-width="0.7"/>
<rect x="181.55" y="353.05" width="3.9" height="3.9" fill="#42648f" stroke="#0b1a33" stroke-width="0.7"/>
<rect x="181.55" y="356.05" width="3.9" height="3.9" fill="#42648f" stroke="#0b1a33" stroke-width="0.7"/>
<rect x="181.55" y="359.45" width="3.9" height="3.9" fill="#42648f" stroke="#0b1a33" stroke-width="0.7"/>
<rect x="181.55" y="362.55" width="3.9" height="3.9" fill="#42648f" stroke="#0b1a33" stroke-width="0.7"/>
<line x1="166.8" y1="324.0" x2="166.8" y2="357.2" stroke="#111" stroke-width="0.9"/>
<line x1="162.8" y1="324.0" x2="170.8" y2="324.0" stroke="#111" stroke-width="0.9"/>
<line x1="162.8" y1="357.2" x2="170.8" y2="357.2" stroke="#111" stroke-width="0.9"/>
<line x1="158.8" y1="347.9" x2="174.8" y2="347.9" stroke="#111" stroke-width="1.1"/>
<line x1="183.5" y1="322.5" x2="183.5" y2="361.4" stroke="#111" stroke-width="0.9"/>
<line x1="179.5" y1="322.5" x2="187.5" y2="322.5" stroke="#111" stroke-width="0.9"/>
<line x1="179.5" y1="361.4" x2="187.5" y2="361.4" stroke="#111" stroke-width="0.9"/>
<line x1="175.2" y1="349.6" x2="191.8" y2="349.6" stroke="#111" stroke-width="1.1"/>
<circle cx="217.2" cy="339.2" r="1.9" fill="#ba2840" stroke="#2a0508" stroke-width="0.75"/>
<circle cx="217.2" cy="343.2" r="1.9" fill="#ba2840" stroke="#2a0508" stroke-width="0.75"/>
<circle cx="217.2" cy="346.9" r="1.9" fill="#ba2840" stroke="#2a0508" stroke-width="0.75"/>
<circle cx="217.2" cy="351.8" r="1.9" fill="#ba2840" stroke="#2a0508" stroke-width="0.75"/>
<circle cx="217.2" cy="357.5" r="1.9" fill="#ba2840" stroke="#2a0508" stroke-width="0.75"/>
<circle cx="217.2" cy="358.4" r="1.9" fill="#ba2840" stroke="#2a0508" stroke-width="0.75"/>
<circle cx="217.2" cy="361.4" r="1.9" fill="#ba2840" stroke="#2a0508" stroke-width="0.75"/>
<circle cx="217.2" cy="362.8" r="1.9" fill="#ba2840" stroke="#2a0508" stroke-width="0.75"/>
<circle cx="217.2" cy="366.6" r="1.9" fill="#ba2840" stroke="#2a0508" stroke-width="0.75"/>
<rect x="232.05" y="342.05" width="3.9" height="3.9" fill="#42648f" stroke="#0b1a33" stroke-width="0.7"/>
<rect x="232.05" y="344.55" width="3.9" height="3.9" fill="#42648f" stroke="#0b1a33" stroke-width="0.7"/>
<rect x="232.05" y="347.05" width="3.9" height="3.9" fill="#42648f" stroke="#0b1a33" stroke-width="0.7"/>
<rect x="232.05" y="349.55" width="3.9" height="3.9" fill="#42648f" stroke="#0b1a33" stroke-width="0.7"/>
<rect x="232.05" y="352.05" width="3.9" height="3.9" fill="#42648f" stroke="#0b1a33" stroke-width="0.7"/>
<rect x="232.05" y="354.55" width="3.9" height="3.9" fill="#42648f" stroke="#0b1a33" stroke-width="0.7"/>
<rect x="232.05" y="357.05" width="3.9" height="3.9" fill="#42648f" stroke="#0b1a33" stroke-width="0.7"/>
<rect x="232.05" y="359.55" width="3.9" height="3.9" fill="#42648f" stroke="#0b1a33" stroke-width="0.7"/>
<rect x="232.05" y="362.05" width="3.9" height="3.9" fill="#42648f" stroke="#0b1a33" stroke-width="0.7"/>
<rect x="232.05" y="364.75" width="3.9" height="3.9" fill="#42648f" stroke="#0b1a33" stroke-width="0.7"/>
<line x1="217.2" y1="346.9" x2="217.2" y2="362.8" stroke="#111" stroke-width="0.9"/>
<line x1="213.2" y1="346.9" x2="221.2" y2="346.9" stroke="#111" stroke-width="0.9"/>
<line x1="213.2" y1="362.8" x2="221.2" y2="362.8" stroke="#111" stroke-width="0.9"/>
<line x1="209.2" y1="358.4" x2="225.2" y2="358.4" stroke="#111" stroke-width="1.1"/>
<line x1="234.0" y1="348.6" x2="234.0" y2="364.0" stroke="#111" stroke-width="0.9"/>
<line x1="230.0" y1="348.6" x2="238.0" y2="348.6" stroke="#111" stroke-width="0.9"/>
<line x1="230.0" y1="364.0" x2="238.0" y2="364.0" stroke="#111" stroke-width="0.9"/>
<line x1="225.7" y1="359.7" x2="242.3" y2="359.7" stroke="#111" stroke-width="1.1"/>
<text x="270.0" y="225.5" font-size="11" text-anchor="middle" fill="#1a1a1a">D</text>
<line x1="311.3" y1="236.0" x2="311.3" y2="371.0" stroke="#111" stroke-width="1.1"/>
<line x1="308.0" y1="358.75" x2="311.3" y2="358.75" stroke="#111" stroke-width="1.0"/>
<text x="305.3" y="361.25" font-size="8.1" text-anchor="end" textLength="4.1" lengthAdjust="spacingAndGlyphs" fill="#1a1a1a">0</text>
<line x1="308.0" y1="336.5" x2="311.3" y2="336.5" stroke="#111" stroke-width="1.0"/>
<text x="305.3" y="339.0" font-size="8.1" text-anchor="end" textLength="8.2" lengthAdjust="spacingAndGlyphs" fill="#1a1a1a">20</text>
<line x1="308.0" y1="314.25" x2="311.3" y2="314.25" stroke="#111" stroke-width="1.0"/>
<text x="305.3" y="316.75" font-size="8.1" text-anchor="end" textLength="8.2" lengthAdjust="spacingAndGlyphs" fill="#1a1a1a">40</text>
<line x1="308.0" y1="292.0" x2="311.3" y2="292.0" stroke="#111" stroke-width="1.0"/>
<text x="305.3" y="294.5" font-size="8.1" text-anchor="end" textLength="8.2" lengthAdjust="spacingAndGlyphs" fill="#1a1a1a">60</text>
<line x1="308.0" y1="269.75" x2="311.3" y2="269.75" stroke="#111" stroke-width="1.0"/>
<text x="305.3" y="272.25" font-size="8.1" text-anchor="end" textLength="8.2" lengthAdjust="spacingAndGlyphs" fill="#1a1a1a">80</text>
<line x1="308.0" y1="247.5" x2="311.3" y2="247.5" stroke="#111" stroke-width="1.0"/>
<text x="305.3" y="250.0" font-size="8.1" text-anchor="end" textLength="12.3" lengthAdjust="spacingAndGlyphs" fill="#1a1a1a">100</text>
<line x1="311.8" y1="247.3" x2="512.0" y2="247.3" stroke="#b4b4b4" stroke-width="1.0" stroke-dasharray="2.2 0.9"/>
<line x1="311.8" y1="247.3" x2="512.0" y2="247.3" stroke="#6a6a6a" stroke-width="1.0" stroke-dasharray="1 12.1" stroke-dashoffset="-3.70"/>
<line x1="410.0" y1="236.3" x2="410.0" y2="370.0" stroke="#444" stroke-width="1.3"/>
<line x1="310.8" y1="370.1" x2="512.5" y2="370.1" stroke="#111" stroke-width="1.3"/>
<line x1="331.3" y1="370.1" x2="331.3" y2="373.6" stroke="#111" stroke-width="0.9"/>
<line x1="351.5" y1="370.1" x2="351.5" y2="373.6" stroke="#111" stroke-width="0.9"/>
<line x1="371.7" y1="370.1" x2="371.7" y2="373.6" stroke="#111" stroke-width="0.9"/>
<line x1="391.8" y1="370.1" x2="391.8" y2="373.6" stroke="#111" stroke-width="0.9"/>
<line x1="432.3" y1="370.1" x2="432.3" y2="373.6" stroke="#111" stroke-width="0.9"/>
<line x1="452.3" y1="370.1" x2="452.3" y2="373.6" stroke="#111" stroke-width="0.9"/>
<line x1="472.4" y1="370.1" x2="472.4" y2="373.6" stroke="#111" stroke-width="0.9"/>
<line x1="492.6" y1="370.1" x2="492.6" y2="373.6" stroke="#111" stroke-width="0.9"/>
<text x="331.3" y="382.6" font-size="7.6" text-anchor="middle" fill="#1a1a1a">-</text>
<text x="350.1" y="382.6" font-size="7.6" text-anchor="middle" textLength="21.5" lengthAdjust="spacingAndGlyphs" fill="#1a1a1a">CytoD</text>
<text x="371.7" y="382.6" font-size="7.6" text-anchor="middle" textLength="13.4" lengthAdjust="spacingAndGlyphs" fill="#1a1a1a">PCT</text>
<text x="394.8" y="382.6" font-size="7.6" text-anchor="middle" textLength="21.0" lengthAdjust="spacingAndGlyphs" fill="#1a1a1a">CytoD</text>
<text x="394.8" y="392.7" font-size="7.6" text-anchor="middle" textLength="17.8" lengthAdjust="spacingAndGlyphs" fill="#1a1a1a">+PCT</text>
<text x="432.3" y="382.6" font-size="7.6" text-anchor="middle" fill="#1a1a1a">-</text>
<text x="450.90000000000003" y="382.6" font-size="7.6" text-anchor="middle" textLength="21.5" lengthAdjust="spacingAndGlyphs" fill="#1a1a1a">CytoD</text>
<text x="472.4" y="382.6" font-size="7.6" text-anchor="middle" textLength="13.4" lengthAdjust="spacingAndGlyphs" fill="#1a1a1a">PCT</text>
<text x="499.2" y="382.6" font-size="7.6" text-anchor="middle" textLength="21.0" lengthAdjust="spacingAndGlyphs" fill="#1a1a1a">CytoD</text>
<text x="499.2" y="392.7" font-size="7.6" text-anchor="middle" textLength="17.8" lengthAdjust="spacingAndGlyphs" fill="#1a1a1a">+PCT</text>
<text x="394.85" y="244.7" font-size="8.0" text-anchor="middle" textLength="12.1" lengthAdjust="spacingAndGlyphs" fill="#1a1a1a">TF+</text>
<text x="493.2" y="244.7" font-size="8.0" text-anchor="middle" textLength="22.8" lengthAdjust="spacingAndGlyphs" fill="#1a1a1a">TNFα+</text>
<line x1="327.0" y1="402.2" x2="389.6" y2="402.2" stroke="#111" stroke-width="0.9"/>
<line x1="327.0" y1="400.2" x2="327.0" y2="404.2" stroke="#111" stroke-width="0.9"/>
<line x1="445.3" y1="402.2" x2="508.0" y2="402.2" stroke="#111" stroke-width="0.9"/>
<line x1="508.0" y1="400.2" x2="508.0" y2="404.2" stroke="#111" stroke-width="0.9"/>
<text x="417.2" y="405.0" font-size="7.6" text-anchor="middle" textLength="21.5" lengthAdjust="spacingAndGlyphs" fill="#1a1a1a">PGN +</text>
<text transform="translate(275.0,303.1) rotate(-90)" x="0" y="0" font-size="9.5" text-anchor="middle" textLength="92.2" lengthAdjust="spacingAndGlyphs" fill="#1a1a1a">Normalized expression</text>
<text transform="translate(285.5,302.35) rotate(-90)" x="0" y="0" font-size="9.5" text-anchor="middle" textLength="81.5" lengthAdjust="spacingAndGlyphs" fill="#1a1a1a">(% PGN stimulation)</text>
<line x1="321.2" y1="247.3" x2="342.4" y2="247.3" stroke="#333" stroke-width="1.4"/>
<circle cx="331.3" cy="247.3" r="2.3" fill="#3f6192" stroke="#0b1a33" stroke-width="0.75"/>
<circle cx="331.3" cy="247.3" r="2.3" fill="#3f6192" stroke="#0b1a33" stroke-width="0.75"/>
<circle cx="331.3" cy="247.3" r="2.3" fill="#3f6192" stroke="#0b1a33" stroke-width="0.75"/>
<circle cx="331.3" cy="247.3" r="2.3" fill="#3f6192" stroke="#0b1a33" stroke-width="0.75"/>
<circle cx="351.5" cy="272.9" r="2.3" fill="#3f6192" stroke="#0b1a33" stroke-width="0.75"/>
<circle cx="351.5" cy="309.6" r="2.3" fill="#3f6192" stroke="#0b1a33" stroke-width="0.75"/>
<circle cx="351.5" cy="340.2" r="2.3" fill="#3f6192" stroke="#0b1a33" stroke-width="0.75"/>
<circle cx="351.5" cy="349" r="2.3" fill="#3f6192" stroke="#0b1a33" stroke-width="0.75"/>
<circle cx="351.5" cy="350.5" r="2.3" fill="#3f6192" stroke="#0b1a33" stroke-width="0.75"/>
<circle cx="351.5" cy="352.4" r="2.3" fill="#3f6192" stroke="#0b1a33" stroke-width="0.75"/>
<circle cx="351.5" cy="355" r="2.3" fill="#3f6192" stroke="#0b1a33" stroke-width="0.75"/>
<circle cx="351.5" cy="356.8" r="2.3" fill="#3f6192" stroke="#0b1a33" stroke-width="0.75"/>
<line x1="351.5" y1="342.3" x2="351.5" y2="355.0" stroke="#111" stroke-width="0.9"/>
<line x1="347.0" y1="342.3" x2="356.0" y2="342.3" stroke="#111" stroke-width="0.9"/>
<line x1="347.0" y1="355.0" x2="356.0" y2="355.0" stroke="#111" stroke-width="0.9"/>
<line x1="341.5" y1="352.1" x2="361.5" y2="352.1" stroke="#111" stroke-width="1.1"/>
<circle cx="371.7" cy="284.2" r="2.3" fill="#3f6192" stroke="#0b1a33" stroke-width="0.75"/>
<circle cx="371.7" cy="286.2" r="2.3" fill="#3f6192" stroke="#0b1a33" stroke-width="0.75"/>
<circle cx="371.7" cy="332.7" r="2.3" fill="#3f6192" stroke="#0b1a33" stroke-width="0.75"/>
<circle cx="371.7" cy="341.4" r="2.3" fill="#3f6192" stroke="#0b1a33" stroke-width="0.75"/>
<circle cx="371.7" cy="351.6" r="2.3" fill="#3f6192" stroke="#0b1a33" stroke-width="0.75"/>
<circle cx="371.7" cy="353.5" r="2.3" fill="#3f6192" stroke="#0b1a33" stroke-width="0.75"/>
<circle cx="371.7" cy="355.9" r="2.3" fill="#3f6192" stroke="#0b1a33" stroke-width="0.75"/>
<line x1="371.7" y1="332.7" x2="371.7" y2="353.3" stroke="#111" stroke-width="0.9"/>
<line x1="367.2" y1="332.7" x2="376.2" y2="332.7" stroke="#111" stroke-width="0.9"/>
<line x1="367.2" y1="353.3" x2="376.2" y2="353.3" stroke="#111" stroke-width="0.9"/>
<line x1="361.7" y1="346.7" x2="381.7" y2="346.7" stroke="#111" stroke-width="1.1"/>
<circle cx="391.8" cy="330.6" r="2.3" fill="#3f6192" stroke="#0b1a33" stroke-width="0.75"/>
<circle cx="391.8" cy="352.1" r="2.3" fill="#3f6192" stroke="#0b1a33" stroke-width="0.75"/>
<circle cx="391.8" cy="354.5" r="2.3" fill="#3f6192" stroke="#0b1a33" stroke-width="0.75"/>
<circle cx="391.8" cy="356.8" r="2.3" fill="#3f6192" stroke="#0b1a33" stroke-width="0.75"/>
<circle cx="391.8" cy="358.5" r="2.3" fill="#3f6192" stroke="#0b1a33" stroke-width="0.75"/>
<circle cx="391.8" cy="360.3" r="2.3" fill="#3f6192" stroke="#0b1a33" stroke-width="0.75"/>
<line x1="391.8" y1="354.5" x2="391.8" y2="358.6" stroke="#111" stroke-width="0.9"/>
<line x1="387.3" y1="354.5" x2="396.3" y2="354.5" stroke="#111" stroke-width="0.9"/>
<line x1="387.3" y1="358.6" x2="396.3" y2="358.6" stroke="#111" stroke-width="0.9"/>
<line x1="381.8" y1="357.0" x2="401.8" y2="357.0" stroke="#111" stroke-width="1.1"/>
<line x1="422.0" y1="247.3" x2="442.0" y2="247.3" stroke="#333" stroke-width="1.4"/>
<path d="M432.3 245.30L434.45 247.3L432.3 249.30L430.15000000000003 247.3Z" fill="#ba2840" stroke="#2a0508" stroke-width="0.7"/>
<path d="M432.3 245.30L434.45 247.3L432.3 249.30L430.15000000000003 247.3Z" fill="#ba2840" stroke="#2a0508" stroke-width="0.7"/>
<path d="M432.3 245.30L434.45 247.3L432.3 249.30L430.15000000000003 247.3Z" fill="#ba2840" stroke="#2a0508" stroke-width="0.7"/>
<path d="M432.3 245.30L434.45 247.3L432.3 249.30L430.15000000000003 247.3Z" fill="#ba2840" stroke="#2a0508" stroke-width="0.7"/>
<path d="M452.3 339.10L454.45 341.1L452.3 343.10L450.15000000000003 341.1Z" fill="#ba2840" stroke="#2a0508" stroke-width="0.7"/>
<path d="M452.3 347.00L454.45 349L452.3 351.00L450.15000000000003 349Z" fill="#ba2840" stroke="#2a0508" stroke-width="0.7"/>
<path d="M452.3 351.30L454.45 353.3L452.3 355.30L450.15000000000003 353.3Z" fill="#ba2840" stroke="#2a0508" stroke-width="0.7"/>
<path d="M452.3 353.50L454.45 355.5L452.3 357.50L450.15000000000003 355.5Z" fill="#ba2840" stroke="#2a0508" stroke-width="0.7"/>
<path d="M452.3 355.70L454.45 357.7L452.3 359.70L450.15000000000003 357.7Z" fill="#ba2840" stroke="#2a0508" stroke-width="0.7"/>
<path d="M452.3 358.30L454.45 360.3L452.3 362.30L450.15000000000003 360.3Z" fill="#ba2840" stroke="#2a0508" stroke-width="0.7"/>
<line x1="452.3" y1="352.4" x2="452.3" y2="357.3" stroke="#111" stroke-width="0.9"/>
<line x1="447.8" y1="352.4" x2="456.8" y2="352.4" stroke="#111" stroke-width="0.9"/>
<line x1="447.8" y1="357.3" x2="456.8" y2="357.3" stroke="#111" stroke-width="0.9"/>
<line x1="442.3" y1="354.7" x2="462.3" y2="354.7" stroke="#111" stroke-width="1.1"/>
<path d="M472.4 288.00L474.54999999999995 290.0L472.4 292.00L470.25 290.0Z" fill="#ba2840" stroke="#2a0508" stroke-width="0.7"/>
<path d="M472.4 313.70L474.54999999999995 315.7L472.4 317.70L470.25 315.7Z" fill="#ba2840" stroke="#2a0508" stroke-width="0.7"/>
<path d="M472.4 333.00L474.54999999999995 335L472.4 337.00L470.25 335Z" fill="#ba2840" stroke="#2a0508" stroke-width="0.7"/>
<path d="M472.4 340.80L474.54999999999995 342.8L472.4 344.80L470.25 342.8Z" fill="#ba2840" stroke="#2a0508" stroke-width="0.7"/>
<path d="M472.4 343.00L474.54999999999995 345L472.4 347.00L470.25 345Z" fill="#ba2840" stroke="#2a0508" stroke-width="0.7"/>
<path d="M472.4 345.20L474.54999999999995 347.2L472.4 349.20L470.25 347.2Z" fill="#ba2840" stroke="#2a0508" stroke-width="0.7"/>
<path d="M472.4 349.60L474.54999999999995 351.6L472.4 353.60L470.25 351.6Z" fill="#ba2840" stroke="#2a0508" stroke-width="0.7"/>
<path d="M472.4 350.50L474.54999999999995 352.5L472.4 354.50L470.25 352.5Z" fill="#ba2840" stroke="#2a0508" stroke-width="0.7"/>
<line x1="472.4" y1="335.8" x2="472.4" y2="346.3" stroke="#111" stroke-width="0.9"/>
<line x1="467.9" y1="335.8" x2="476.9" y2="335.8" stroke="#111" stroke-width="0.9"/>
<line x1="467.9" y1="346.3" x2="476.9" y2="346.3" stroke="#111" stroke-width="0.9"/>
<line x1="462.4" y1="338.8" x2="482.4" y2="338.8" stroke="#111" stroke-width="1.1"/>
<path d="M492.6 346.60L494.75 348.6L492.6 350.60L490.45000000000005 348.6Z" fill="#ba2840" stroke="#2a0508" stroke-width="0.7"/>
<path d="M492.6 350.80L494.75 352.8L492.6 354.80L490.45000000000005 352.8Z" fill="#ba2840" stroke="#2a0508" stroke-width="0.7"/>
<path d="M492.6 354.00L494.75 356L492.6 358.00L490.45000000000005 356Z" fill="#ba2840" stroke="#2a0508" stroke-width="0.7"/>
<path d="M492.6 355.50L494.75 357.5L492.6 359.50L490.45000000000005 357.5Z" fill="#ba2840" stroke="#2a0508" stroke-width="0.7"/>
<path d="M492.6 357.10L494.75 359.1L492.6 361.10L490.45000000000005 359.1Z" fill="#ba2840" stroke="#2a0508" stroke-width="0.7"/>
<line x1="492.6" y1="355.5" x2="492.6" y2="358.8" stroke="#111" stroke-width="0.9"/>
<line x1="488.1" y1="355.5" x2="497.1" y2="355.5" stroke="#111" stroke-width="0.9"/>
<line x1="488.1" y1="358.8" x2="497.1" y2="358.8" stroke="#111" stroke-width="0.9"/>
<line x1="482.6" y1="357.3" x2="502.6" y2="357.3" stroke="#111" stroke-width="1.1"/>
<rect x="0" y="1" width="520" height="1" fill="#a8a8a8"/>
<rect x="1" y="0" width="1" height="412" fill="#999"/>
<rect x="518" y="0" width="1" height="412" fill="#8a8a8a"/>
<rect x="0" y="410" width="520" height="1" fill="#c8c8c8"/>
<rect x="0" y="0" width="520" height="1" fill="#464646"/>
<rect x="0" y="0" width="1" height="412" fill="#464646"/>
<rect x="519" y="0" width="1" height="412" fill="#464646"/>
<rect x="0" y="411" width="520" height="1" fill="#141414"/>
</svg>
</body></html>
